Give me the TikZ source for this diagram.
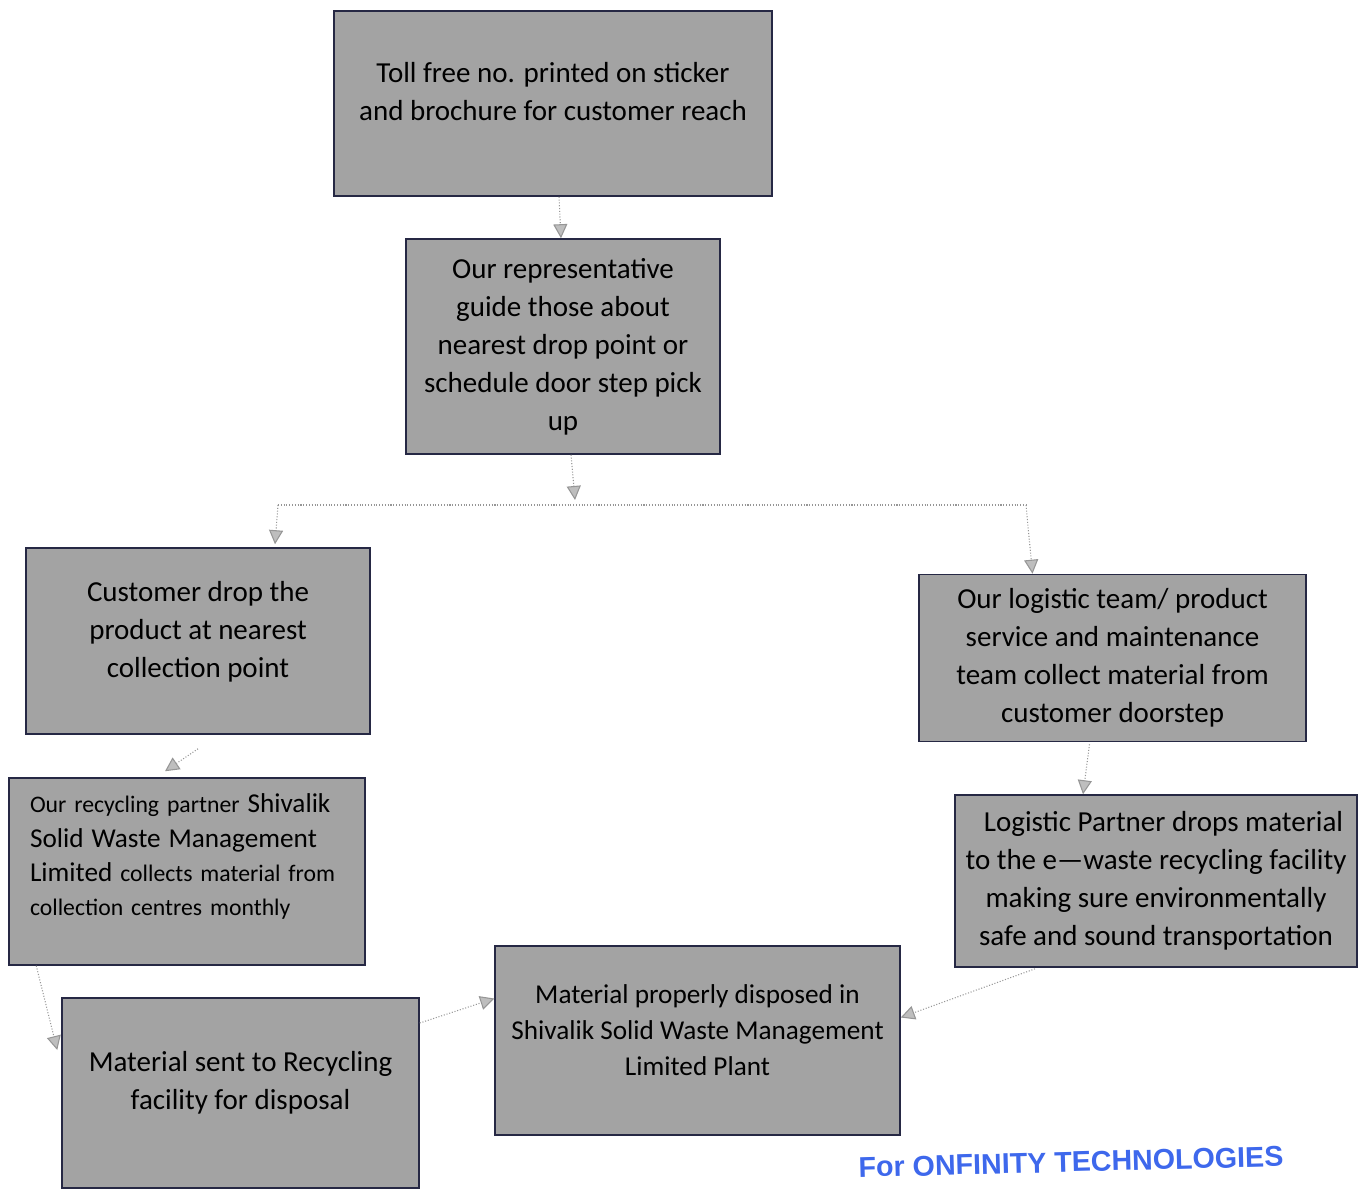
\documentclass[tikz,border=0pt]{standalone}
\usepackage{fontspec}
\setmainfont{Carlito}
\newfontfamily\stampfont{Liberation Sans}
\usetikzlibrary{arrows.meta,calc}
\begin{document}
\begin{tikzpicture}[x=0.02cm,y=-0.02cm,
  stepbox/.style={draw=boxline,fill=boxfill,line width=0.9pt,align=center,
    font=\fontsize{16.5}{21.6}\selectfont,inner sep=0pt},
  link/.style={draw=linkcolor,densely dotted,line width=0.6pt,
    -{Triangle[length=8pt,width=8pt,fill=tipcolor]}},
  plain/.style={draw=linkcolor,densely dotted,line width=0.6pt}]
\definecolor{boxfill}{RGB}{163,163,163}
\definecolor{boxline}{RGB}{38,40,68}
\definecolor{linkcolor}{RGB}{150,150,150}
\definecolor{tipcolor}{RGB}{190,190,190}
\definecolor{stampcolor}{RGB}{62,104,236}
\useasboundingbox (0,0) rectangle (1366,1188);
% boxes
\node (toll) [stepbox,minimum width=8.76cm,minimum height=3.70cm] at (553,103.5)
  {Toll free no. printed on sticker\\and brochure for customer reach\\[-0.26cm]};
\node (rep) [stepbox,minimum width=6.28cm,minimum height=4.30cm] at (563,346.5)
  {Our representative\\guide those about\\nearest drop point or\\schedule door step pick\\up};
\node (drop) [stepbox,minimum width=6.88cm,minimum height=3.72cm] at (198,641)
  {Customer drop the\\product at nearest\\collection point\\[-0.28cm]};
\node (pickup) [stepbox,minimum width=7.74cm,minimum height=3.34cm] at (1112.5,658)
  {Our logistic team/ product\\service and maintenance\\team collect material from\\customer doorstep};
\node (partner) [stepbox,align=left,minimum width=7.12cm,minimum height=3.74cm,
  text width=6.28cm,font=\fontsize{13.5}{19.4}\selectfont] at (187,871.5)
  {Our recycling partner {\fontsize{15.5}{19.4}\selectfont Shivalik}\\
   {\fontsize{15.5}{19.4}\selectfont Solid Waste Management}\\
   {\fontsize{15.5}{19.4}\selectfont Limited} collects material from\\
   collection centres monthly\par\nointerlineskip\vbox to 0.6cm{}};
\node (transport) [stepbox,minimum width=8.04cm,minimum height=3.44cm] at (1156,881)
  {\hspace*{0.3cm}Logistic Partner drops material\\to the e---waste recycling facility\\making sure environmentally\\safe and sound transportation};
\node (disposed) [stepbox,minimum width=8.10cm,minimum height=3.78cm,
  font=\fontsize{15.5}{20.5}\selectfont] at (697.5,1040.5)
  {Material properly disposed in\\Shivalik Solid Waste Management\\Limited Plant\\[-0.32cm]};
\node (sent) [stepbox,minimum width=7.14cm,minimum height=3.80cm] at (240.5,1093)
  {Material sent to Recycling\\facility for disposal\\[-0.24cm]};
% fork below the second box
\coordinate (forkin) at (575,500);
\coordinate (forkL) at (278,505);
\coordinate (forkR) at (1026,505);
% connectors
\draw [link] ($(toll.south)+(6,0)$) -- ($(rep.north)+(-2,0)$);
\draw [link] ($(rep.south)+(8,0)$) -- (forkin);
\draw [plain] (forkL) -- (forkR);
\draw [link] (forkL) -- ($(drop.north)+(77,-3)$);
\draw [link] (forkR) -- ($(pickup.north)+(-80,0)$);
\draw [link] ($(drop.south)+(0,14)$) -- ($(partner.north)+(-22,-6)$);
\draw [link] ($(partner.south west)+(28,0)$) -- ($(sent.west)+(-4,-43)$);
\draw [link] ($(sent.east)+(0,-70)$) -- ($(disposed.west)+(0,-42)$);
\draw [link] ($(pickup.south)+(-23,2)$) -- ($(transport.north)+(-73,0)$);
\draw [link] ($(transport.south)+(-121,1)$) -- ($(disposed.east)+(0,-23)$);
% stamp
\node (stamp) [text=stampcolor,rotate=1.5,font=\stampfont\bfseries\fontsize{16.3}{20}\selectfont]
  at (1071,1162) {For ONFINITY TECHNOLOGIES};
\end{tikzpicture}
\end{document}
